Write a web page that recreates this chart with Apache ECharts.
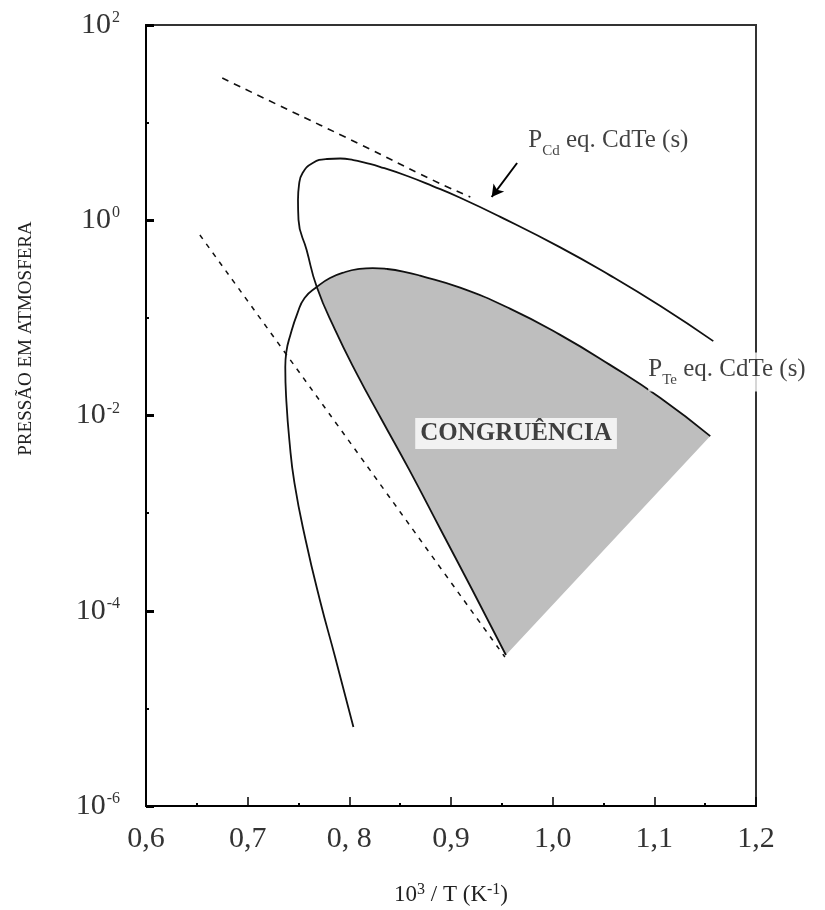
<!DOCTYPE html>
<html>
<head>
<meta charset="utf-8">
<script src="https://cdn.jsdelivr.net/npm/echarts@6/dist/echarts.min.js"></script>
<style>
  html, body { margin: 0; padding: 0; background: #fff; }
  #chart { width: 825px; height: 910px; }
</style>
</head>
<body>
<div id="chart"></div>
<script>
// Fonts
const FONT = '"Liberation Serif", "Times New Roman", serif';

// x axis: 10^3/T (K^-1)
const xTickValues = [0.6, 0.7, 0.8, 0.9, 1.0, 1.1, 1.2];
const xTickLabels = ['0,6', '0,7', '0, 8', '0,9', '1,0', '1,1', '1,2'];

// P_Cd in equilibrium with CdTe(s): [10^3/T, pressure (atm)]
// starts at the low-pressure tip and runs up over the maximum
const cdCurve = [
  [0.954, 3.52e-5], [0.921, 1.63e-4], [0.890, 6.71e-4], [0.859, 2.77e-3],
  [0.832, 9.0e-3], [0.807, 0.0272], [0.786, 0.0752], [0.768, 0.207],
  [0.758, 0.496], [0.750, 1.01], [0.7495, 1.61], [0.7505, 2.30],
  [0.754, 3.05], [0.764, 3.86], [0.778, 4.24], [0.791, 4.29],
  [0.804, 4.14], [0.816, 3.87], [0.830, 3.53], [0.857, 2.84], [0.882, 2.24],
  [0.909, 1.70], [0.948, 1.09], [1.007, 0.531], [1.056, 0.274],
  [1.106, 0.132], [1.158, 0.0578]
];

// P_Te2 in equilibrium with CdTe(s)
const teCurve = [
  [0.804, 6.44e-6], [0.786, 3.36e-5], [0.771, 1.29e-4], [0.757, 5.31e-4],
  [0.746, 2.04e-3], [0.741, 5.61e-3], [0.738, 0.0144], [0.737, 0.0314],
  [0.738, 0.0447], [0.742, 0.0668], [0.749, 0.112], [0.756, 0.160],
  [0.768, 0.207], [0.781, 0.256], [0.796, 0.295], [0.810, 0.317],
  [0.823, 0.324], [0.837, 0.317], [0.853, 0.2985], [0.8695, 0.271],
  [0.909, 0.204], [0.958, 0.1245], [1.007, 0.0674], [1.056, 0.0332],
  [1.106, 0.0151], [1.155, 6.15e-3]
];

// dashed reference lines (pure Cd and pure Te vapour pressure)
const cdReference = [
  [0.675, 28.6], [0.732, 14.8], [0.810, 6.04], [0.882, 2.58], [0.919, 1.73]
];
const teReference = [
  [0.653, 0.706], [0.7335, 0.0491], [0.811, 3.76e-3], [0.889, 2.81e-4],
  [0.953, 3.36e-5]
];

// congruent-sublimation region: P_Te2 branch past the crossing, then
// back up the P_Cd branch from its tip to the crossing
const TE_CROSS_INDEX = 12;
const CD_CROSS_INDEX = 7;
const congruenceRegion = teCurve.slice(TE_CROSS_INDEX)
  .concat(cdCurve.slice(0, CD_CROSS_INDEX + 1));

// arrow pointing at the P_Cd curve
const cdArrow = [[0.965, 3.86], [0.940, 1.73]];

// text anchors
const cdLabelAt = [0.976, 6.18];
const teLabelAt = [1.094, 0.0279];
const congruenceLabelAt = [0.964, 6.54e-3];

function supLabel(value) {
  const e = Math.round(Math.log10(value));
  return '{b|10}{s|' + e + '}';
}

const chart = echarts.init(document.getElementById('chart'), null, { renderer: 'canvas' });

const solid = { color: '#111', width: 1.8 };
const SMOOTH = 0.5;

const curveLabelRich = {
  p: { fontFamily: FONT, fontSize: 25, color: '#111', verticalAlign: 'bottom', padding: [0, 0, 6, 0] },
  s: { fontFamily: FONT, fontSize: 15, color: '#111', verticalAlign: 'bottom' },
  t: { fontFamily: FONT, fontSize: 25, color: '#111', verticalAlign: 'bottom', padding: [0, 0, 6, 0] }
};

const option = {
  animation: false,
  backgroundColor: '#fff',
  grid: {
    left: 146, right: 69, top: 25, bottom: 104,
    outerBoundsMode: 'none',
    containLabel: false,
    show: true, borderColor: '#333', borderWidth: 2, backgroundColor: 'transparent'
  },
  xAxis: {
    type: 'value',
    min: 0.6, max: 1.2, interval: 0.1,
    axisLine: { show: true, lineStyle: { color: '#000', width: 2 } },
    axisTick: { show: true, inside: true, length: 9, lineStyle: { color: '#000', width: 1.5 } },
    minorTick: { show: true, splitNumber: 2, length: 3, lineStyle: { color: '#000', width: 2 } },
    splitLine: { show: false },
    axisLabel: {
      margin: 18, fontFamily: FONT, fontSize: 30, color: '#333',
      formatter: v => {
        const i = xTickValues.findIndex(t => Math.abs(t - v) < 1e-6);
        return i >= 0 ? xTickLabels[i] : '';
      }
    },
    name: '10{s|3} / T (K{s|-1})',
    nameLocation: 'middle',
    nameGap: 102,
    nameTextStyle: {
      fontFamily: FONT, fontSize: 23, color: '#222', verticalAlign: 'bottom',
      rich: {
        s: { fontFamily: FONT, fontSize: 16, color: '#222', verticalAlign: 'bottom', padding: [0, 0, 10, 0] }
      }
    }
  },
  yAxis: [
    {
      type: 'log',
      min: 1e-6, max: 1e2, interval: 2,
      axisLine: { show: true, lineStyle: { color: '#000', width: 2 } },
      axisTick: { show: true, inside: true, length: 8, lineStyle: { color: '#000', width: 3 } },
      splitLine: { show: false },
      axisLabel: {
        margin: 26, fontFamily: FONT, color: '#333',
        formatter: supLabel,
        rich: {
          b: { fontFamily: FONT, fontSize: 30, color: '#333', verticalAlign: 'bottom' },
          s: { fontFamily: FONT, fontSize: 16, color: '#333', verticalAlign: 'bottom', padding: [0, 0, 14, 1] }
        }
      },
      name: 'PRESSÃO EM ATMOSFERA',
      nameLocation: 'middle',
      nameGap: 110,
      nameTextStyle: { fontFamily: FONT, fontSize: 19, color: '#222', padding: [0, 0, 0, 154] }
    },
    {
      type: 'log',
      min: 1e-6, max: 1e2, interval: 1,
      position: 'left',
      axisLine: { show: false },
      axisTick: { show: true, inside: true, length: 3, lineStyle: { color: '#000', width: 2 } },
      axisLabel: { show: false },
      splitLine: { show: false }
    }
  ],
  series: [
    {
      type: 'custom',
      coordinateSystem: 'cartesian2d',
      z: 1,
      silent: true,
      data: [[0.9, 0.01]],
      renderItem: (params, api) => ({
        type: 'polygon',
        shape: { points: congruenceRegion.map(p => api.coord(p)) },
        style: { fill: '#bebebe', stroke: null }
      })
    },
    {
      type: 'line', name: 'Cd ref', z: 3, showSymbol: false, silent: true,
      data: cdReference, smooth: SMOOTH,
      lineStyle: { color: '#111', width: 1.6, type: [7, 6] }
    },
    {
      type: 'line', name: 'Te ref', z: 3, showSymbol: false, silent: true,
      data: teReference, smooth: SMOOTH,
      lineStyle: { color: '#111', width: 1.5, type: [5, 6] }
    },
    {
      type: 'line', name: 'P_Cd', z: 4, showSymbol: false, silent: true,
      data: cdCurve, smooth: SMOOTH,
      lineStyle: solid,
      markLine: {
        silent: true,
        symbol: ['none', 'arrow'],
        symbolSize: [10, 12],
        label: { show: false },
        lineStyle: { color: '#000', width: 2, type: 'solid' },
        data: [[{ coord: cdArrow[0] }, { coord: cdArrow[1] }]]
      }
    },
    {
      type: 'line', name: 'P_Te', z: 4, showSymbol: false, silent: true,
      data: teCurve, smooth: SMOOTH,
      lineStyle: solid
    },
    {
      type: 'scatter', z: 6, silent: true, symbolSize: 0,
      data: [
        {
          value: cdLabelAt,
          label: {
            show: true, position: 'right', distance: 0,
            formatter: '{p|P}{s|Cd}{t| eq. CdTe (s)}',
            rich: curveLabelRich
          }
        },
        {
          value: teLabelAt,
          label: {
            show: true, position: 'right', distance: 0,
            backgroundColor: '#fff', padding: [4, 4, 4, 0],
            formatter: '{p|P}{s|Te}{t| eq. CdTe (s)}',
            rich: curveLabelRich
          }
        },
        {
          value: congruenceLabelAt,
          label: {
            show: true, position: 'inside',
            formatter: 'CONGRUÊNCIA',
            fontFamily: FONT, fontSize: 25, fontWeight: 'bold', color: '#111',
            backgroundColor: '#fff', padding: [3, 5, 3, 5]
          }
        }
      ]
    }
  ]
};

chart.setOption(option);
</script>
</body>
</html>
